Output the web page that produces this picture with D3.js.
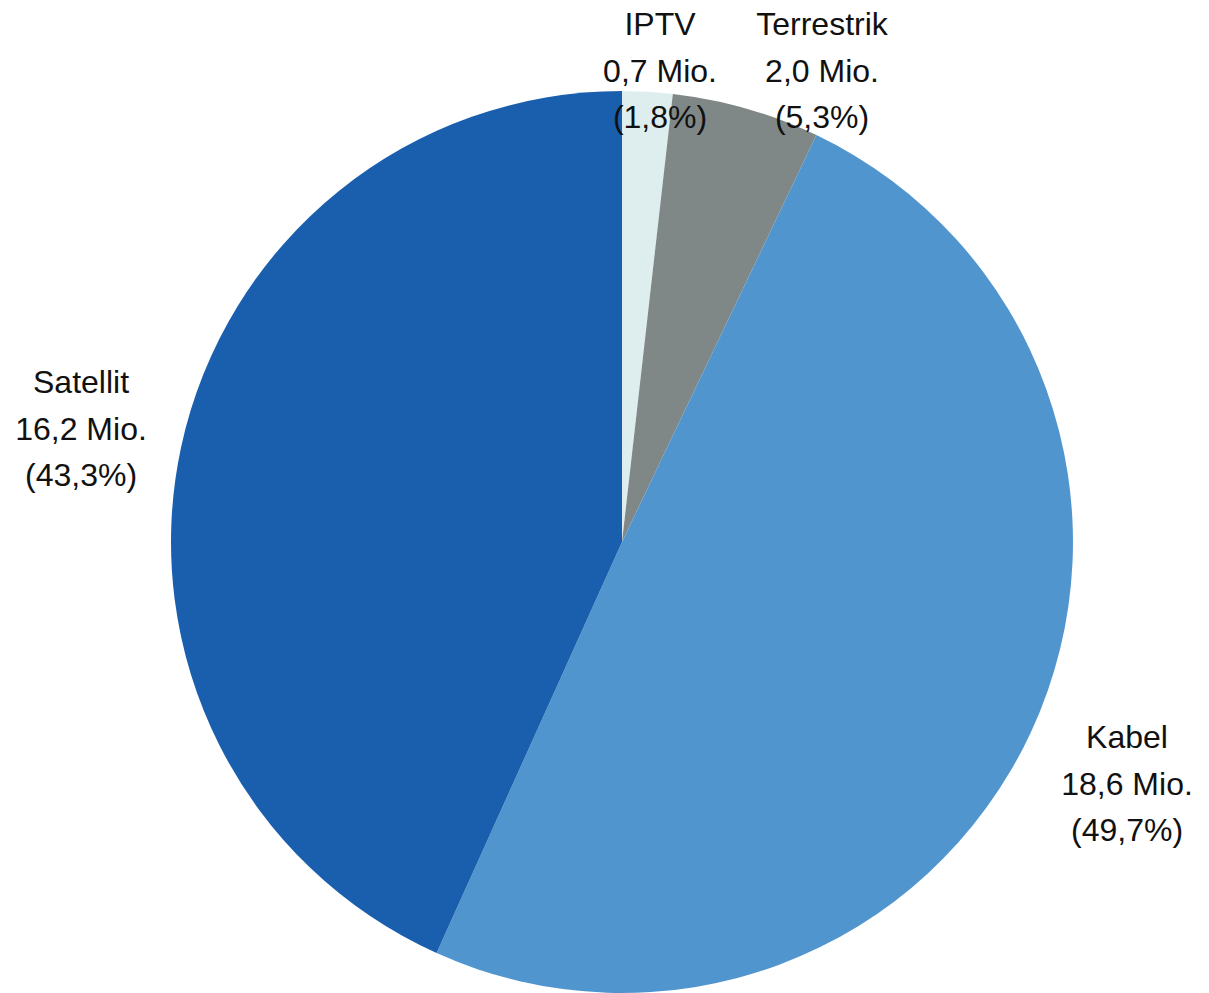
<!DOCTYPE html>
<html>
<head>
<meta charset="utf-8">
<script src="https://cdn.jsdelivr.net/npm/d3@7"></script>
<style>
	body { margin: 0; background: #fff; }
	text { font-family: "Liberation Sans", Arial, sans-serif; font-size: 32px; fill: #111; }
</style>
</head>
<body>
<svg id="chart" width="1209" height="993"></svg>
<script>
// data, clockwise from 12 o'clock
var categories = ["IPTV", "Terrestrik", "Kabel", "Satellit"],
	millions   = [0.7, 2.0, 18.6, 16.2],
	shares     = [1.8, 5.3, 49.7, 43.3];

var colors = ["#deeeee", "#7f8886", "#5095ce", "#1a5fae"];

// label anchor (centre x, baseline of first line)
var labelPos = [[660, 35], [822, 35], [1127, 748], [81, 393]];

var data = categories.map((c, i) => ({name: c, mio: millions[i], pct: shares[i]}));

var de = d3.formatLocale({decimal: ",", thousands: ".", grouping: [3], currency: ["", " €"]}),
	f1 = de.format(".1f");

var svg = d3.select("#chart"),
	cx = 622, cy = 542, radius = 451;

var pie = d3.pie()
	.sort(null)
	.value(d => d.pct);

var arc = d3.arc()
	.innerRadius(0)
	.outerRadius(radius);

var g = svg.append("g")
	.attr("transform", "translate(" + cx + "," + cy + ")");

g.selectAll("path")
	.data(pie(data))
.enter().append("path")
	.attr("d", arc)
	.attr("fill", (d, i) => colors[i]);

var label = svg.selectAll(".label")
	.data(data)
.enter().append("text")
	.attr("class", "label")
	.attr("text-anchor", "middle")
	.attr("transform", (d, i) => "translate(" + labelPos[i][0] + "," + labelPos[i][1] + ")");

label.selectAll("tspan")
	.data(d => [d.name, f1(d.mio) + " Mio.", "(" + f1(d.pct) + "%)"])
.enter().append("tspan")
	.attr("x", 0)
	.attr("y", (d, i) => i * 46.5)
	.text(d => d);
</script>
</body>
</html>
